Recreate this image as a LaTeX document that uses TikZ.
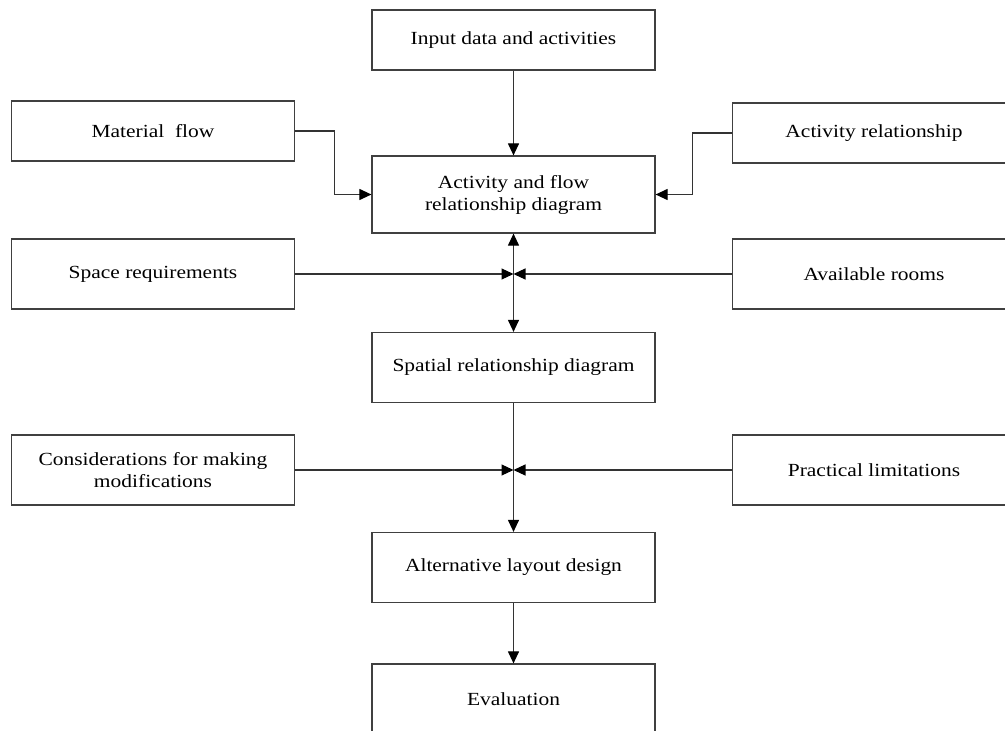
\documentclass[tikz,border=0pt]{standalone}
\usepackage{fontspec}
\setmainfont{Liberation Serif}[FakeStretch=1.16]
\usetikzlibrary{arrows.meta}

\begin{document}
\begin{tikzpicture}
  [x=1pt,y=-1pt,every node/.style={rectangle,draw=black!75,line width=1.2pt,minimum width=283pt,minimum height=70pt,inner sep=0pt,align=center,font=\fontsize{18.5}{22}\selectfont},
   link/.style={draw=black!80,line width=1.1pt,-{Triangle[length=12pt,width=11pt,color=black]}}]
  \useasboundingbox (0,0) rectangle (1005,731);

  \node (input) at (513.5,40) [minimum height=60pt] {Input data and activities};
  \node (matflow) at (153,131) [minimum height=60pt] {Material~ flow};
  \node (actrel) at (874,133) [minimum height=60pt] {Activity relationship};
  \node (actflow) at (513.5,194.5) [minimum height=77pt] {Activity and flow\\relationship diagram};
  \node (space) at (153,274) {Space requirements};
  \node (rooms) at (874,274) {Available rooms};
  \node (spatial) at (513.5,367.5) {Spatial relationship diagram};
  \node (consid) at (153,470) {Considerations for making\\modifications};
  \node (limits) at (874,470) {Practical limitations};
  \node (altlay) at (513.5,567.5) {Alternative layout design};
  \node (eval) at (513.5,699) {Evaluation};

  \coordinate (j1) at (513.5,274);
  \coordinate (j2) at (513.5,470);

  \foreach \from/\to in {input/actflow,j1/actflow,j1/spatial,altlay/eval}
    \draw[link] (\from) -- (\to);
  \foreach \from/\to in {space/j1,rooms/j1,consid/j2,limits/j2}
    \draw[link] (\from) -- (\to);
  \draw[link,-] (spatial) -- (j2);
  \draw[link] (j2) -- (altlay);

  \draw[link] (matflow.east) -- ++(39,0) |- (actflow.west);
  \draw[link] (actrel.west) -- ++(-39,0) |- (actflow.east);

\end{tikzpicture}
\end{document}
